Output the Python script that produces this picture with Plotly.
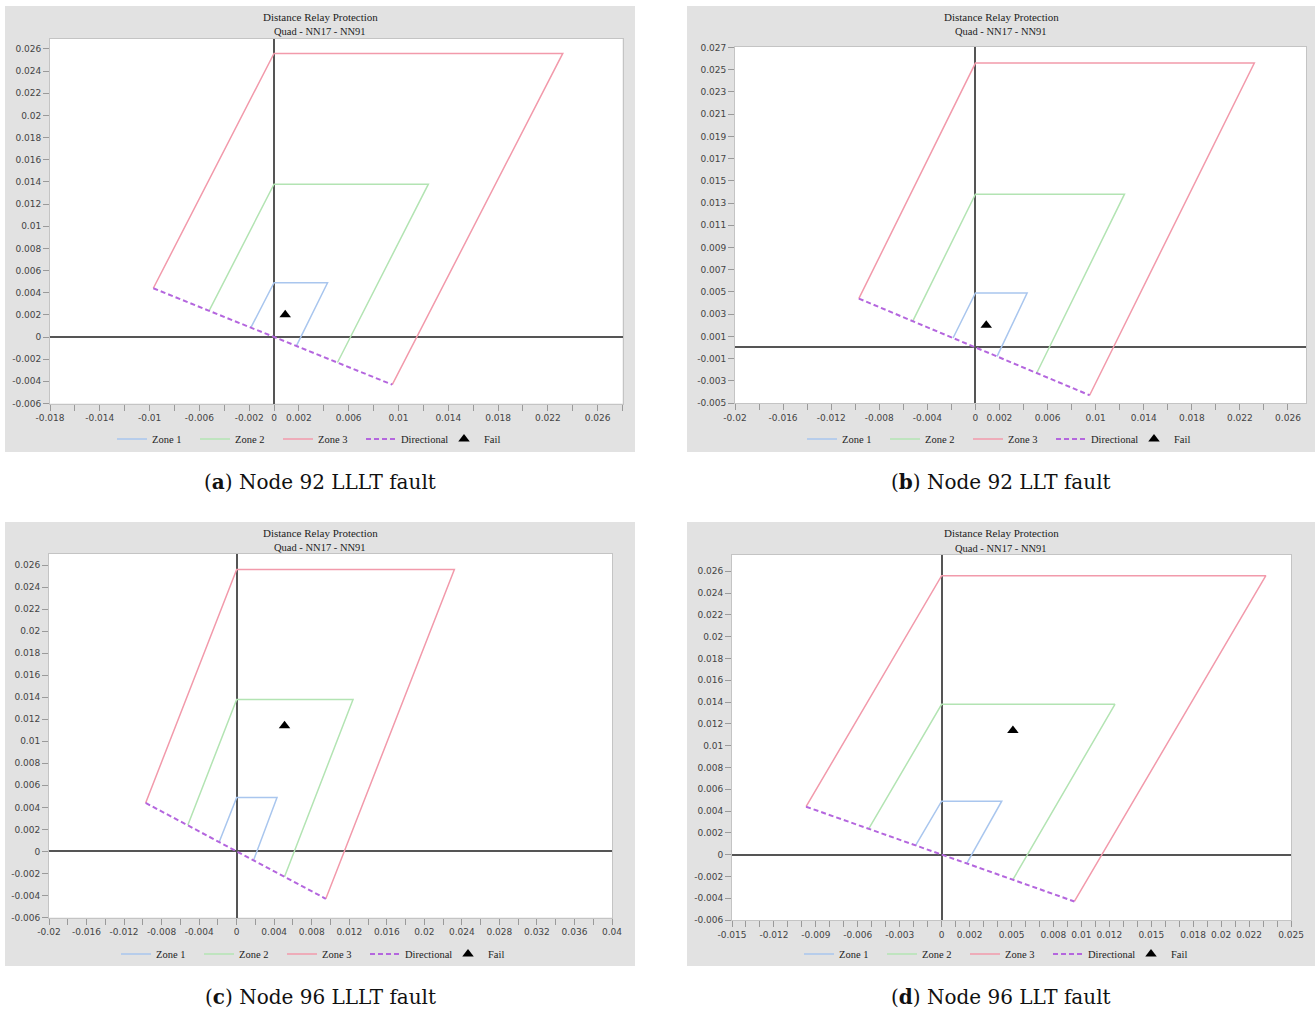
import numpy as np
import plotly.graph_objects as go

W, H = 1315, 1014

# ---------------- data ----------------
zone1_x = [-0.00186, 0.0, 0.0043, 0.0018]
zone1_y = [0.00085, 0.0049, 0.0049, -0.0008]
zone2_x = [-0.0052, 0.0, 0.0124, 0.0051]
zone2_y = [0.0024, 0.0138, 0.0138, -0.0023]
zone3_x = [-0.0097, 0.0, 0.0232, 0.0095]
zone3_y = [0.0044, 0.0256, 0.0256, -0.0043]
dir_x = [-0.0097, 0.0, 0.0095]
dir_y = [0.0044, 0.0, -0.0043]

fail_x = [0.0009, 0.0009, 0.0051, 0.0051]
fail_y = [0.0020, 0.0020, 0.0114, 0.0114]

captions = ["Node 92 LLLT fault", "Node 92 LLT fault",
            "Node 96 LLLT fault", "Node 96 LLT fault"]
letters = ["a", "b", "c", "d"]

title_main = "Distance Relay Protection"
title_sub = "Quad - NN17 - NN91"

# axis tick settings per panel: (start, stop, step, labelled values)
x_ticks = [
    (-0.018, 0.028, 0.002, [-0.018, -0.014, -0.01, -0.006, -0.002, 0, 0.002, 0.006, 0.01, 0.014, 0.018, 0.022, 0.026]),
    (-0.020, 0.026, 0.002, [-0.02, -0.016, -0.012, -0.008, -0.004, 0, 0.002, 0.006, 0.01, 0.014, 0.018, 0.022, 0.026]),
    (-0.020, 0.040, 0.002, [-0.02, -0.016, -0.012, -0.008, -0.004, 0, 0.004, 0.008, 0.012, 0.016, 0.02, 0.024, 0.028, 0.032, 0.036, 0.04]),
    (-0.015, 0.025, 0.001, [-0.015, -0.012, -0.009, -0.006, -0.003, 0, 0.002, 0.005, 0.008, 0.01, 0.012, 0.015, 0.018, 0.02, 0.022, 0.025]),
]
y_ticks = [
    (-0.006, 0.026, 0.002),
    (-0.005, 0.027, 0.002),
    (-0.006, 0.026, 0.002),
    (-0.006, 0.026, 0.002),
]
x_ranges = [[-0.018, 0.028], [-0.02, 0.0275], [-0.02, 0.04], [-0.015, 0.025]]
y_ranges = [[-0.006, 0.0269], [-0.005, 0.02705], [-0.006, 0.027], [-0.006, 0.0275]]

# ---------------- layout geometry (pixels) ----------------
plot_px = [  # x0, x1, y0(top), y1(bottom)
    (50, 622.5, 39, 403.5),
    (735, 1306, 47, 403),
    (49, 612, 554, 917.5),
    (732, 1291, 555, 920),
]
bg_px = [(5, 635, 6, 452), (687, 1315, 6, 452), (5, 635, 522, 966), (687, 1315, 522, 966)]
title_y_px = [(17, 31), (17, 31), (533, 547), (533, 548)]
legend_px = [(112, 439), (802, 439), (116, 954), (799, 954)]
caption_px = [(320, 482), (1001, 482), (320, 997), (1001, 997)]

def px(x):
    return x / W

def py(y):
    return 1 - y / H

def fmt(v):
    if abs(v) < 1e-12:
        return "0"
    return f"{v:.3f}".rstrip("0").rstrip(".")

c_z1 = "#a9c6ee"
c_z2 = "#b3e4b3"
c_z3 = "#f29aab"
c_dir = "#b466de"

fig = go.Figure()
shapes = []
annotations = []
layout = {}

for i in range(4):
    sfx = "" if i == 0 else str(i + 1)
    xa, ya = "x" + sfx, "y" + sfx
    lg = "legend" + sfx
    common = dict(xaxis=xa, yaxis=ya, legend=lg, mode="lines", hoverinfo="skip")
    fig.add_trace(go.Scatter(x=zone1_x, y=zone1_y, name="Zone 1", line=dict(color=c_z1, width=1.5), **common))
    fig.add_trace(go.Scatter(x=zone2_x, y=zone2_y, name="Zone 2", line=dict(color=c_z2, width=1.5), **common))
    fig.add_trace(go.Scatter(x=zone3_x, y=zone3_y, name="Zone 3", line=dict(color=c_z3, width=1.5), **common))
    fig.add_trace(go.Scatter(x=dir_x, y=dir_y, name="Directional",
                             line=dict(color=c_dir, width=2, dash="5px,3px"), **common))
    fig.add_trace(go.Scatter(x=[fail_x[i]], y=[fail_y[i]], name="Fail", xaxis=xa, yaxis=ya, legend=lg,
                             mode="markers", marker=dict(symbol="triangle-up", size=10, color="black"),
                             hoverinfo="skip"))

    x0, x1, yt, yb = plot_px[i]
    s, e, st, labs = x_ticks[i]
    n = int(round((e - s) / st))
    xt = [round(s + k * st, 4) for k in range(n + 1)]
    labset = set(round(v, 4) for v in labs)
    xtext = [fmt(v) if round(v, 4) in labset else "" for v in xt]
    ys, ye, yst = y_ticks[i]
    m = int(round((ye - ys) / yst))
    yt_vals = [round(ys + k * yst, 4) for k in range(m + 1)]
    ytext = [fmt(v) for v in yt_vals]

    axis_common = dict(
        showgrid=False, zeroline=True, zerolinecolor="#555555", zerolinewidth=1.5,
        showline=True, mirror=True, linecolor="#c4c4c4", linewidth=1,
        ticks="outside", ticklen=6, tickcolor="#9a9a9a", tickwidth=1,
        tickfont=dict(family="DejaVu Sans", size=9, color="#444444"),
        tickmode="array", fixedrange=True, automargin=False,
    )
    layout["xaxis" + sfx] = dict(axis_common, domain=[px(x0), px(x1)], range=x_ranges[i],
                                 anchor=ya, tickvals=xt, ticktext=xtext)
    layout["yaxis" + sfx] = dict(axis_common, domain=[py(yb), py(yt)], range=y_ranges[i],
                                 anchor=xa, tickvals=yt_vals, ticktext=ytext)

    lx, ly = legend_px[i]
    layout[lg] = dict(orientation="h", x=px(lx), y=py(ly), xanchor="left", yanchor="middle",
                      xref="paper", yref="paper", bgcolor="rgba(0,0,0,0)",
                      font=dict(family="Liberation Serif", size=10.5, color="#222222"),
                      entrywidth=38, entrywidthmode="pixels", itemclick=False, itemdoubleclick=False)

    bx0, bx1, by0, by1 = bg_px[i]
    shapes.append(dict(type="rect", xref="paper", yref="paper", x0=px(bx0), x1=px(bx1),
                       y0=py(by1), y1=py(by0), fillcolor="#e2e2e2", line=dict(width=0), layer="below"))
    shapes.append(dict(type="rect", xref="paper", yref="paper", x0=px(x0), x1=px(x1),
                       y0=py(yb), y1=py(yt), fillcolor="white", line=dict(width=0), layer="below"))

    cx = (bx0 + bx1) / 2
    t1, t2 = title_y_px[i]
    annotations.append(dict(text=title_main, x=px(cx), y=py(t1), xref="paper", yref="paper",
                            showarrow=False, xanchor="center", yanchor="middle",
                            font=dict(family="Liberation Serif", size=11, color="#222222")))
    annotations.append(dict(text=title_sub, x=px(cx), y=py(t2), xref="paper", yref="paper",
                            showarrow=False, xanchor="center", yanchor="middle",
                            font=dict(family="Liberation Serif", size=10.5, color="#222222")))
    ccx, ccy = caption_px[i]
    annotations.append(dict(text="(<b>" + letters[i] + "</b>) " + captions[i], x=px(ccx), y=py(ccy),
                            xref="paper", yref="paper", showarrow=False, xanchor="center", yanchor="middle",
                            font=dict(family="DejaVu Serif", size=20, color="#111111")))

fig.update_layout(
    width=W, height=H, margin=dict(l=0, r=0, t=0, b=0, pad=0, autoexpand=False),
    paper_bgcolor="white", plot_bgcolor="white",
    shapes=shapes, annotations=annotations, **layout,
)
fig.write_html("out.html")
